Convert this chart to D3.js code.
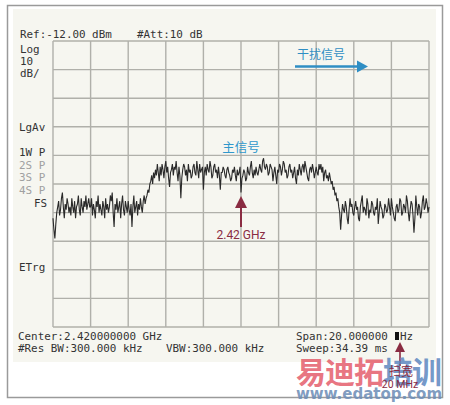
<!DOCTYPE html>
<html>
<head>
<meta charset="utf-8">
<script src="https://cdn.jsdelivr.net/npm/d3@7"></script>
<style>
  body { margin: 0; background: #fff; }
  svg { display: block; }
  .mono { font-family: "DejaVu Sans Mono", monospace; font-size: 10.9px; fill: #333; }
  .cjk { font-family: "Noto Sans CJK SC", sans-serif; }
</style>
</head>
<body>
<div id="chart"></div>
<script>
// analyzer settings
const refLevel = -12;      // dBm, top line
const dbPerDiv = 10;
const divisions = 10;
const spanMHz = 20;        // centred on 2.42 GHz

// trace, 0.05 MHz steps from -10 MHz to +10 MHz (one row per MHz)
const traceDbm = [
  -74, -78, -81, -76, -72, -70, -68, -73, -71, -67, -65, -70, -74, -69, -71, -67, -69, -72, -70, -73,
  -67, -70, -72, -68, -74, -70, -69, -66, -71, -73, -67, -70, -72, -68, -70, -66, -71, -69, -67, -70,
  -70, -67, -73, -69, -71, -74, -68, -70, -66, -72, -69, -71, -73, -68, -70, -74, -67, -71, -69, -72,
  -70, -66, -68, -65, -72, -77, -69, -71, -67, -72, -70, -68, -74, -69, -66, -71, -73, -68, -70, -72,
  -68, -71, -73, -69, -77, -70, -66, -72, -70, -68, -73, -69, -71, -67, -70, -72, -68, -66, -69, -67,
  -66, -64, -65, -62, -61, -59, -62, -58, -60, -57, -59, -55, -58, -61, -56, -59, -55, -57, -60, -56,
  -54, -58, -56, -60, -63, -58, -57, -55, -59, -56, -57, -54, -58, -61, -56, -59, -67, -60, -57, -55,
  -56, -59, -57, -61, -55, -58, -57, -60, -59, -56, -55, -58, -59, -54, -57, -60, -55, -58, -57, -56,
  -64, -58, -56, -59, -55, -57, -58, -54, -56, -60, -59, -56, -55, -58, -57, -60, -56, -59, -64, -58,
  -58, -56, -57, -59, -60, -57, -56, -58, -59, -61, -60, -57, -58, -56, -59, -61, -57, -59, -58, -56,
  -65, -60, -59, -57, -58, -61, -60, -56, -58, -59, -56, -54, -58, -60, -57, -59, -56, -58, -59, -57,
  -55, -57, -58, -54, -53, -56, -57, -55, -56, -59, -58, -55, -56, -57, -61, -58, -56, -59, -62, -57,
  -58, -55, -56, -59, -57, -54, -55, -58, -57, -60, -59, -56, -55, -58, -57, -60, -58, -56, -60, -62,
  -57, -59, -55, -57, -59, -56, -55, -58, -54, -56, -58, -60, -61, -57, -56, -58, -55, -57, -60, -58,
  -56, -58, -59, -55, -57, -55, -58, -56, -61, -58, -57, -60, -59, -61, -58, -60, -62, -61, -64, -63,
  -66, -65, -68, -67, -70, -72, -78, -73, -69, -71, -72, -68, -70, -74, -76, -71, -67, -70, -69, -72,
  -73, -70, -68, -71, -70, -74, -75, -70, -68, -66, -72, -70, -71, -73, -67, -69, -74, -71, -72, -68,
  -69, -72, -73, -70, -71, -67, -76, -72, -68, -70, -71, -74, -73, -69, -70, -72, -71, -67, -70, -73,
  -67, -70, -72, -74, -75, -70, -69, -72, -71, -67, -68, -73, -72, -69, -70, -72, -66, -68, -72, -75,
  -71, -68, -69, -73, -79, -74, -66, -70, -73, -69, -70, -74, -72, -68, -66, -71, -70, -67, -69, -72,
  -70
];
const freqMHz = traceDbm.map((d, i) => -spanMHz / 2 + i * 0.05);

// side annotations
const headerTexts = ["Ref:-12.00 dBm", "#Att:10 dB"];
const logLabels = ["Log", "10", "dB/"];
const statusLabels = ["LgAv", "1W P", "2S P", "3S P", "4S P", "FS", "ETrg"];
const footerLeft = ["Center:2.420000000 GHz", "#Res BW:300.000 kHz"];
const footerVbw = "VBW:300.000 kHz";
const footerRight = ["Span:20.000000", "Sweep:34.39 ms"];
const spanUnit = "Hz";
const mainLabel = "主信号";
const interfLabel = "干扰信号";
const centerLabel = "2.42 GHz";
const spanLabels = ["扫宽", "20 MHz"];

const W = 450, H = 405;
const plot = {left: 53, top: 41, right: 429, bottom: 327};

const svg = d3.select("#chart").append("svg")
    .attr("width", W)
    .attr("height", H);

// frame + panel
svg.append("rect").attr("x", 7.5).attr("y", 5.5).attr("width", 435).attr("height", 392)
    .attr("fill", "#fff").attr("stroke", "#9a9a9a").attr("stroke-width", 1.5);
svg.append("rect").attr("x", 13).attr("y", 9).attr("width", 423).attr("height", 353)
    .attr("fill", "#f6f6f0");

const x = d3.scaleLinear()
    .domain([-spanMHz / 2, spanMHz / 2])
    .range([plot.left, plot.right]);
const y = d3.scaleLinear()
    .domain([refLevel - dbPerDiv * divisions, refLevel])
    .range([plot.bottom, plot.top]);

// grid
const xGrid = d3.range(divisions + 1).map(i => -spanMHz / 2 + i * spanMHz / divisions);
const yGrid = d3.range(divisions + 1).map(i => refLevel - i * dbPerDiv);
const grid = svg.append("g").attr("stroke", "#b0b0aa").attr("stroke-width", 1.4);
grid.selectAll(".vx").data(xGrid).join("line")
    .attr("x1", d => x(d)).attr("x2", d => x(d))
    .attr("y1", plot.top).attr("y2", plot.bottom);
grid.selectAll(".hy").data(yGrid).join("line")
    .attr("y1", d => y(d)).attr("y2", d => y(d))
    .attr("x1", plot.left).attr("x2", plot.right);

// trace
const line = d3.line()
    .x((d, i) => x(freqMHz[i]))
    .y(d => y(d));
svg.append("path")
    .datum(traceDbm)
    .attr("d", line)
    .attr("fill", "none")
    .attr("stroke", "#2a2a2a")
    .attr("stroke-width", 1.1);

// instrument text
const mono = svg.append("g").attr("class", "mono");
mono.append("text").attr("x", 20).attr("y", 38).text(headerTexts[0]);
mono.append("text").attr("x", 137).attr("y", 38).text(headerTexts[1]);
logLabels.forEach((t, i) => mono.append("text").attr("x", 20).attr("y", 53 + i * 12).text(t));

const statusY = [131, 156, 168.5, 181, 194, 207, 271];
statusLabels.forEach((t, i) => {
  const txt = mono.append("text").attr("y", statusY[i]).text(t);
  if (t === "FS") txt.attr("x", 47).attr("text-anchor", "end");
  else txt.attr("x", 19);
  if (i >= 2 && i <= 4) txt.attr("fill", "#a0a0a0");
});

footerLeft.forEach((t, i) => mono.append("text").attr("x", 18).attr("y", 340 + i * 12).text(t));
mono.append("text").attr("x", 166).attr("y", 352).text(footerVbw);
mono.append("text").attr("x", 296).attr("y", 340).text(footerRight[0]);
// the unit prefix is blacked out on the original screen
svg.append("rect").attr("x", 395).attr("y", 332).attr("width", 4).attr("height", 8).attr("fill", "#111");
mono.append("text").attr("x", 400).attr("y", 340).text(spanUnit);
mono.append("text").attr("x", 296).attr("y", 352).text(footerRight[1]);

// blue annotations
const blue = "#2f98cc";
svg.append("text").attr("class", "cjk").attr("x", x(0)).attr("y", 152)
    .attr("text-anchor", "middle").attr("font-size", 12.5).attr("fill", blue).text(mainLabel);
svg.append("text").attr("class", "cjk").attr("x", 321).attr("y", 59)
    .attr("text-anchor", "middle").attr("font-size", 12).attr("fill", "#2f8ec4").text(interfLabel);
svg.append("line").attr("x1", 295).attr("x2", 359).attr("y1", 66.5).attr("y2", 66.5)
    .attr("stroke", "#2f8ec4").attr("stroke-width", 2.4);
svg.append("path").attr("d", "M357,60.5 L368,66.5 L357,72.5 Z").attr("fill", "#2f8ec4");

// red centre marker
const red = "#8a2c42";
const cx = x(0);
svg.append("line").attr("x1", cx).attr("x2", cx).attr("y1", 205).attr("y2", 227)
    .attr("stroke", red).attr("stroke-width", 2);
svg.append("path").attr("d", `M${cx},196 L${cx - 6},208 L${cx + 6},208 Z`).attr("fill", red);
svg.append("text").attr("x", cx).attr("y", 239).attr("text-anchor", "middle")
    .attr("font-family", "Roboto, sans-serif").attr("font-size", 12).attr("fill", red)
    .text(centerLabel);

// span marker
const sx = 400;
svg.append("line").attr("x1", sx).attr("x2", sx).attr("y1", 350).attr("y2", 366)
    .attr("stroke", red).attr("stroke-width", 1.6);
svg.append("path").attr("d", `M${sx},342 L${sx - 5},352 L${sx + 5},352 Z`).attr("fill", red);

// watermark
const wm = svg.append("g").attr("font-family", "'Noto Sans CJK SC', sans-serif").attr("font-weight", 700);
wm.append("text").attr("x", 296).attr("y", 383).attr("font-size", 30).attr("fill", "#e2505f")
    .attr("fill-opacity", 0.8).attr("letter-spacing", -1).text("易迪拓");
wm.append("text").attr("x", 383).attr("y", 383).attr("font-size", 30).attr("fill", "#5d87c0")
    .attr("fill-opacity", 0.85).attr("letter-spacing", -1).text("培训");

svg.append("text").attr("class", "cjk").attr("x", 401).attr("y", 376).attr("text-anchor", "middle")
    .attr("font-size", 12).attr("fill", red).text(spanLabels[0]);
svg.append("text").attr("x", 400).attr("y", 388).attr("text-anchor", "middle")
    .attr("font-family", "Roboto, sans-serif").attr("font-size", 10.5).attr("fill", red).text(spanLabels[1]);

svg.append("text").attr("x", 369).attr("y", 399).attr("text-anchor", "middle")
    .attr("font-family", "'DejaVu Sans', sans-serif").attr("font-weight", 700).attr("font-size", 15)
    .attr("fill", "#6f8fb8").attr("fill-opacity", 0.9).text("www.edatop.com");
</script>
</body>
</html>
